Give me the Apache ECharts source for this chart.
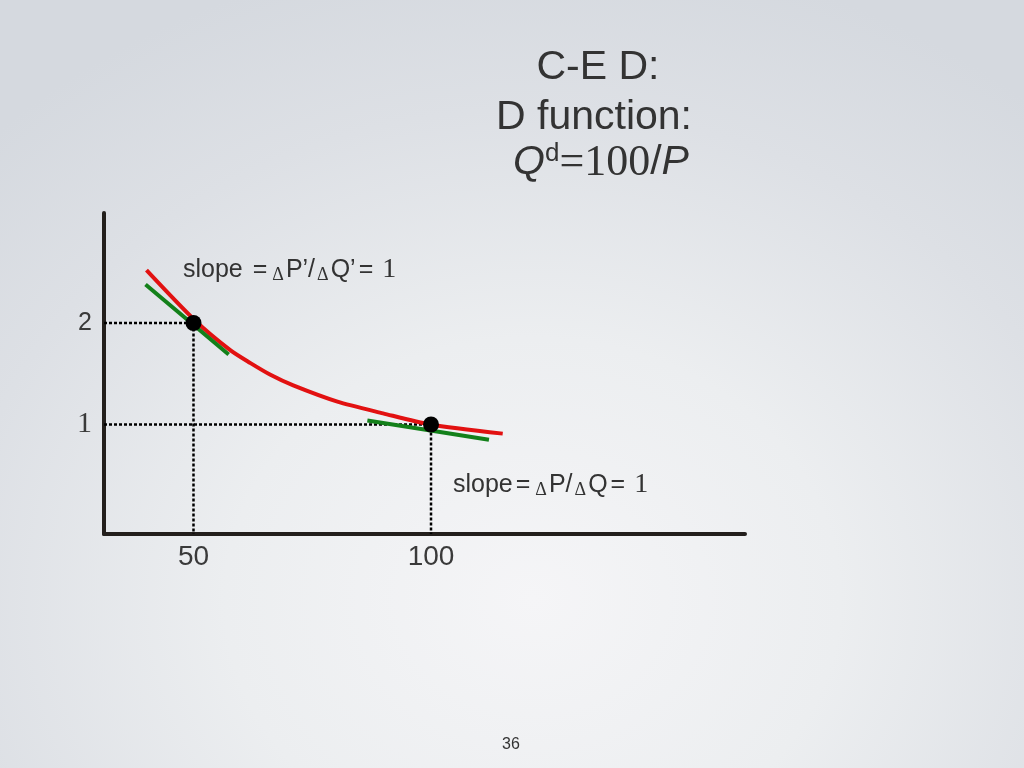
<!DOCTYPE html>
<html>
<head>
<meta charset="utf-8">
<script src="https://cdn.jsdelivr.net/npm/echarts@6/dist/echarts.min.js"></script>
<style>
  html, body { margin: 0; padding: 0; }
  body {
    width: 1024px; height: 768px; overflow: hidden;
    background: radial-gradient(ellipse 75% 85% at 52% 78%, #f5f5f7 0%, #eceef0 40%, #dde0e5 75%, #d5d9df 100%);
  }
  #chart { width: 1024px; height: 768px; }
</style>
</head>
<body>
<div id="chart"></div>
<script>
// demand curve Qd = 100/P (as drawn on the slide)
const demandCurve = [
  [40.1, 2.52], [50.2, 2.03], [57.8, 1.73], [62.0, 1.605], [66.2, 1.49],
  [71.0, 1.385], [80.3, 1.225], [89.9, 1.11], [99.8, 1.00], [115.1, 0.91]
];
// tangent lines
const tangentUpper = [[39.9, 2.38], [57.4, 1.69]];
const tangentLower = [[86.6, 1.04], [112.2, 0.85]];
// marked points
const points = [[50, 2], [100, 1]];
// axis ticks
const qTicks = [50, 100];
const pTicks = [1, 2];
const qMin = 31.16, qMax = 166.1;
const pMin = -0.079, pMax = 3.084;

const dotted = points.map(([q, p]) => [[qMin, p], [q, p], [q, pMin]]);

const chart = echarts.init(document.getElementById('chart'));
const font = '"Liberation Sans", Arial, sans-serif';
const serif = '"Liberation Serif", "Times New Roman", serif';
const ink = '#333';

function slopeRich() {
  return {
    t: { fontSize: 25, fontFamily: font, fill: ink },
    e: { fontSize: 25, fontFamily: font, fill: ink, padding: [0, 3, 0, 3] },
    d: { fontSize: 18, fontFamily: serif, fill: ink, verticalAlign: 'bottom', padding: [0, 2, 0, 2] },
    s: { fontSize: 28, fontFamily: serif, fill: ink, padding: [0, 0, 0, 6] }
  };
}

const option = {
  backgroundColor: 'transparent',
  animation: false,
  grid: { left: 104, right: 279, top: 213, bottom: 234 },
  xAxis: {
    type: 'value', min: qMin, max: qMax,
    axisLine: { show: true, onZero: false, lineStyle: { color: '#231f1c', width: 4 } },
    axisTick: { show: false },
    splitLine: { show: false },
    axisLabel: {
      customValues: qTicks, margin: 9,
      color: '#3a3a3a', fontSize: 28, fontFamily: font
    }
  },
  yAxis: {
    type: 'value', min: pMin, max: pMax,
    axisLine: { show: true, onZero: false, lineStyle: { color: '#231f1c', width: 4 } },
    axisTick: { show: false },
    splitLine: { show: false },
    axisLabel: {
      customValues: pTicks, margin: 12,
      formatter: v => v === 1 ? '{s|1}' : '{n|' + v + '}',
      rich: {
        s: { fontFamily: serif, fontSize: 30, color: '#3a3a3a' },
        n: { fontFamily: font, fontSize: 25, color: '#3a3a3a' }
      }
    }
  },
  series: [
    ...dotted.map(d => ({
      type: 'line', data: d, symbol: 'none', silent: true,
      lineStyle: { color: '#000', width: 2.5, type: [3, 2] }, z: 1
    })),
    {
      type: 'line', data: demandCurve, symbol: 'none', smooth: 0.25,
      lineStyle: { color: '#e21111', width: 4 }, z: 2
    },
    {
      type: 'line', data: tangentUpper, symbol: 'none',
      lineStyle: { color: '#13801a', width: 4 }, z: 3
    },
    {
      type: 'line', data: tangentLower, symbol: 'none',
      lineStyle: { color: '#13801a', width: 4 }, z: 3
    },
    {
      type: 'scatter', data: points, symbolSize: 16,
      itemStyle: { color: '#000', opacity: 1 }, z: 4
    }
  ],
  graphic: [
    {
      type: 'text',
      style: { x: 598, y: 68, text: 'C-E D:', fill: ink, fontSize: 41, fontFamily: font, align: 'center', verticalAlign: 'middle' }
    },
    {
      type: 'text',
      style: { x: 594, y: 118, text: 'D function:', fill: ink, fontSize: 41, fontFamily: font, align: 'center', verticalAlign: 'middle' }
    },
    {
      type: 'text',
      style: {
        x: 601, y: 163, align: 'center', verticalAlign: 'middle',
        text: '{qi|Q}{sup|d}{sr|=100}{n|/}{pi|P}',
        rich: {
          qi: { fontSize: 41, fontStyle: 'italic', fontFamily: font, fill: ink },
          sup: { fontSize: 26, fontFamily: font, fill: ink, verticalAlign: 'top' },
          sr: { fontSize: 44, fontFamily: serif, fill: ink },
          n: { fontSize: 41, fontFamily: font, fill: ink },
          pi: { fontSize: 41, fontStyle: 'italic', fontFamily: font, fill: ink }
        }
      }
    },
    {
      type: 'text',
      style: {
        x: 183, y: 270, align: 'left', verticalAlign: 'middle',
        text: '{t|slope }{e|=}{d|Δ}{t|P’/}{d|Δ}{t|Q’}{e|=}{s|1}',
        rich: slopeRich()
      }
    },
    {
      type: 'text',
      style: {
        x: 453, y: 485, align: 'left', verticalAlign: 'middle',
        text: '{t|slope}{e|=}{d|Δ}{t|P/}{d|Δ}{t|Q}{e|=}{s|1}',
        rich: slopeRich()
      }
    },
    {
      type: 'text',
      style: { x: 511, y: 745, text: '36', fill: ink, fontSize: 16, fontFamily: font, align: 'center', verticalAlign: 'middle' }
    }
  ]
};
chart.setOption(option);
</script>
</body>
</html>
